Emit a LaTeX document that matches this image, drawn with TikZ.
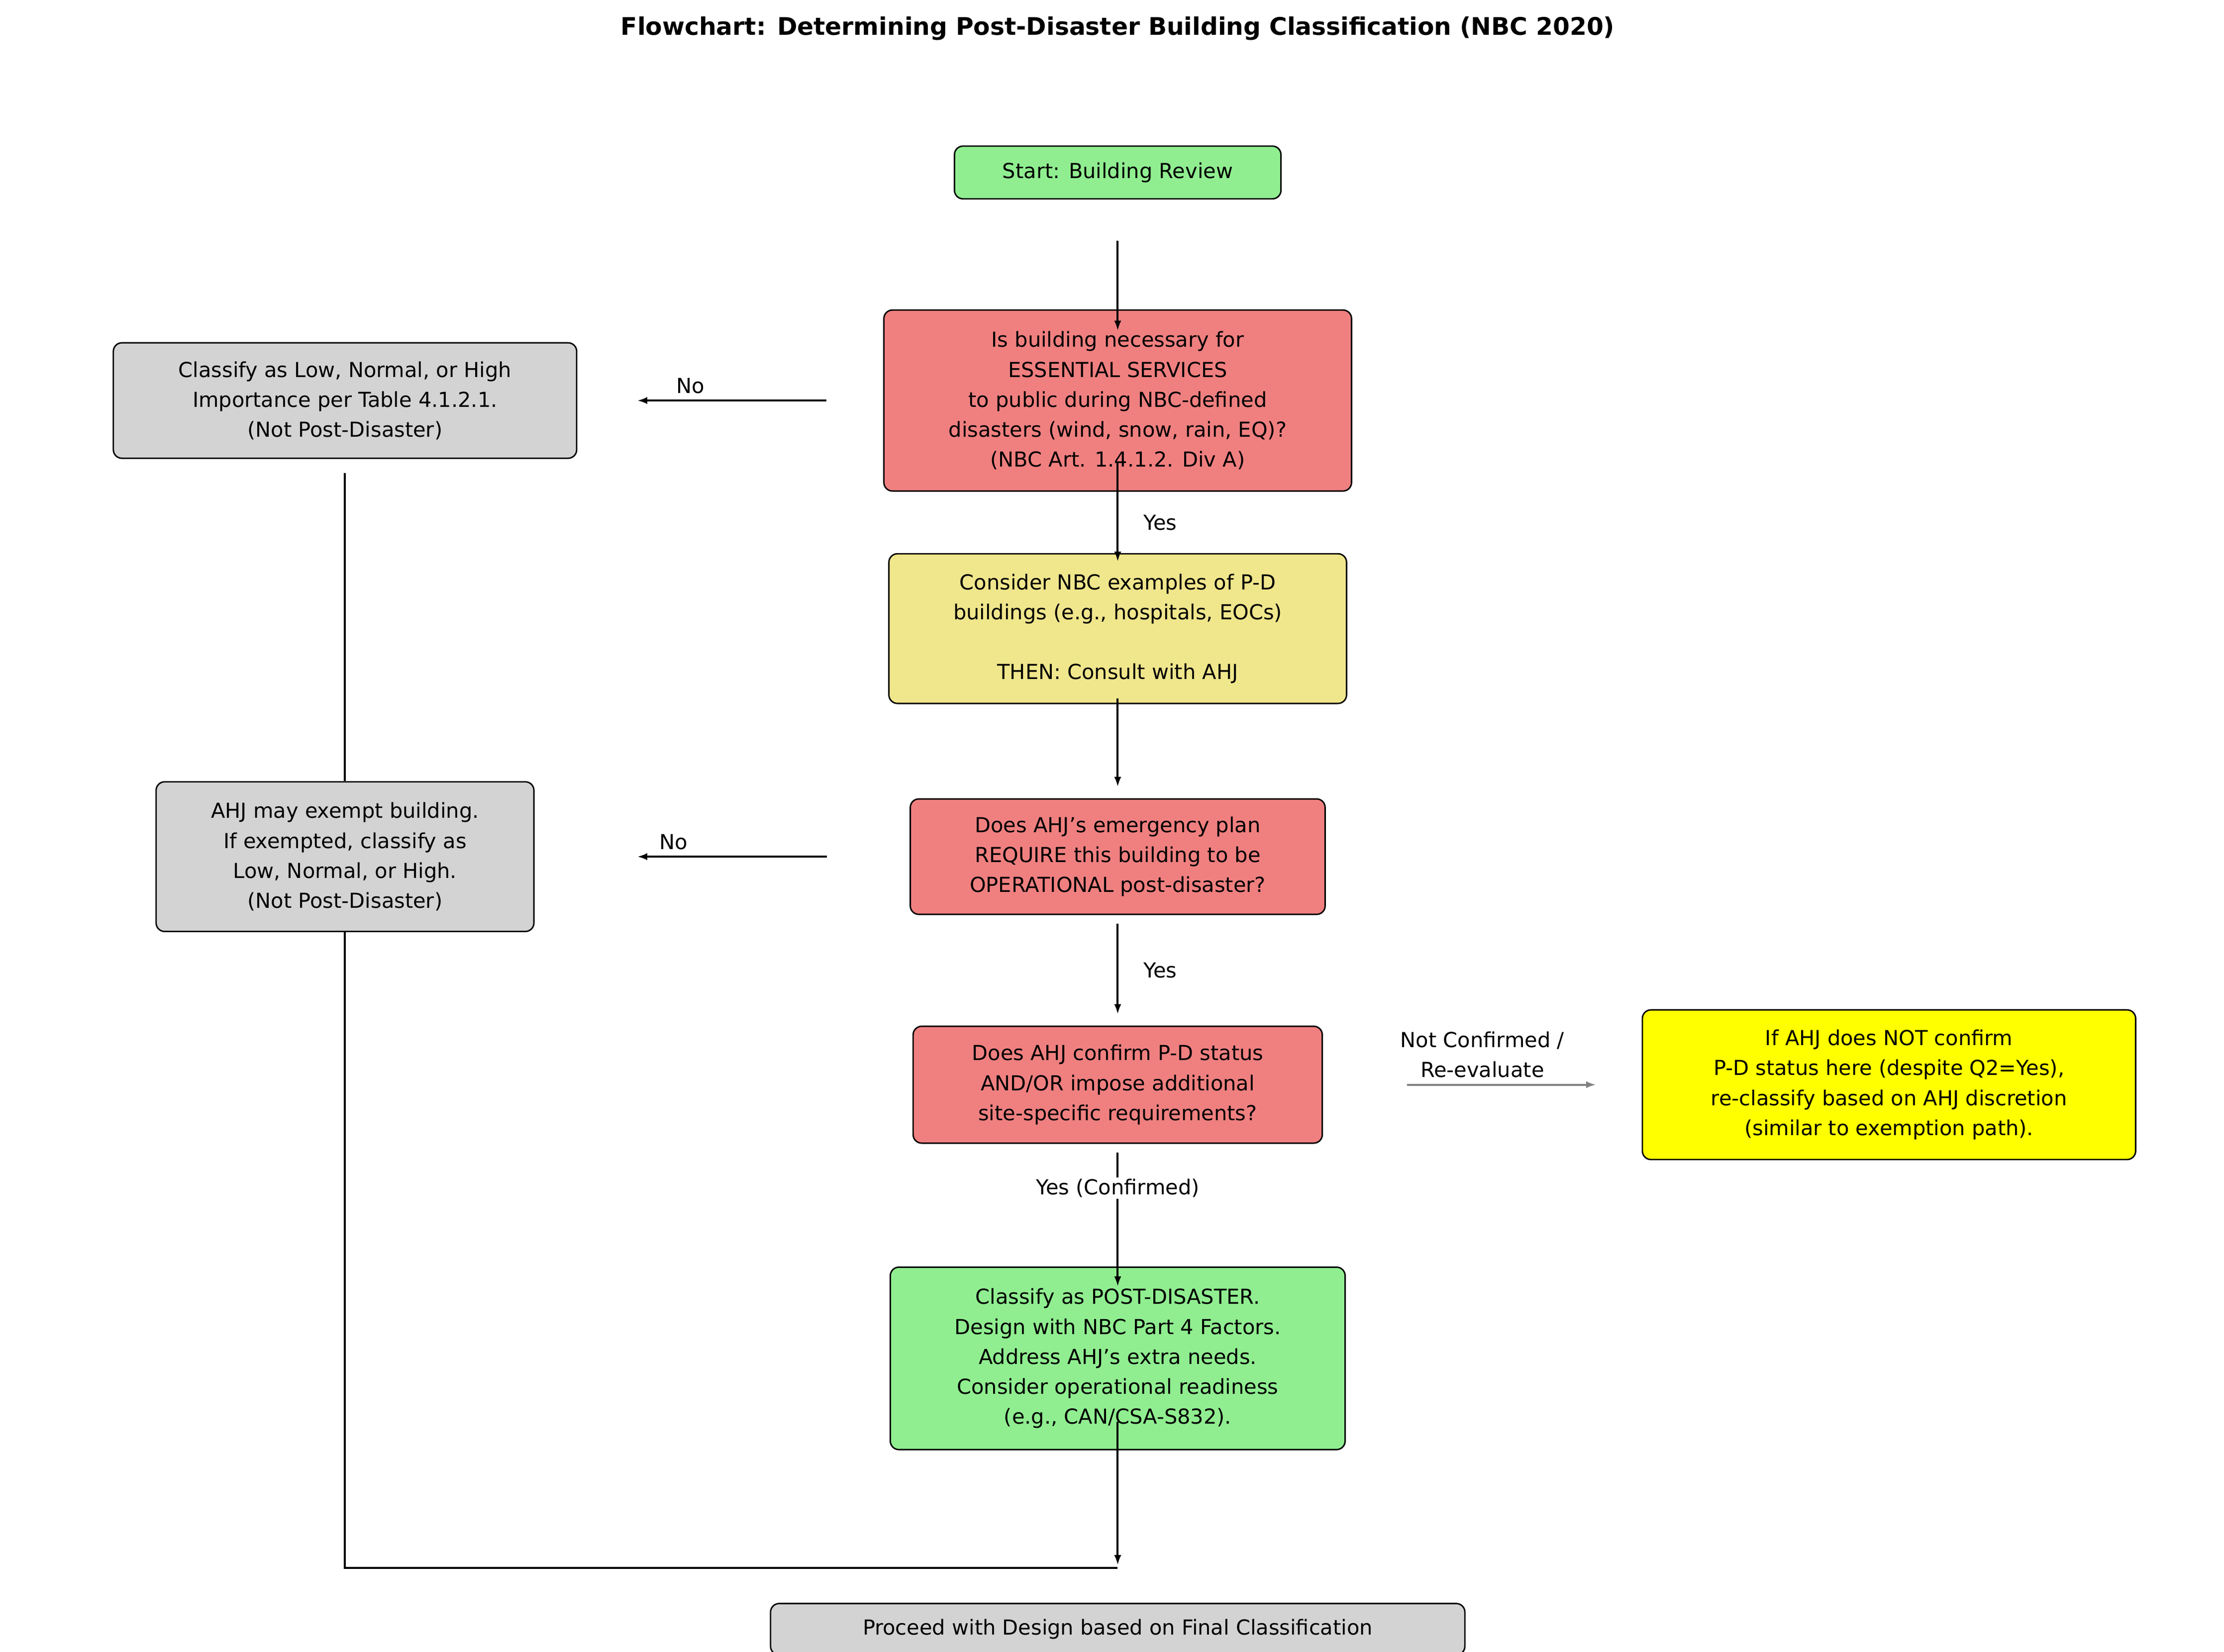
\documentclass[tikz,border=0pt]{standalone}
\usepackage{fontspec}
\setmainfont{DejaVu Sans}
\usetikzlibrary{arrows.meta}
\definecolor{pdgreen}{HTML}{90EE90}
\definecolor{pdred}{HTML}{F08080}
\definecolor{pdgray}{HTML}{D3D3D3}
\definecolor{pdkhaki}{HTML}{F0E68C}
\definecolor{pdyellow}{HTML}{FFFF00}
\tikzset{
  box/.style={draw, line width=1pt, rounded corners=6pt, align=center, inner sep=0pt,
    font=\fontsize{14.5}{21}\selectfont},
  flow/.style={line width=1.4pt, -{Latex[length=7pt,width=5pt]}},
  plain/.style={line width=1.4pt},
  lbl/.style={font=\fontsize{14.5}{21}\selectfont, align=center}
}
\begin{document}
\begin{tikzpicture}[x=1pt,y=-1pt]
        \useasboundingbox (0,0) rectangle (1560,1159);

        \node [font=\fontsize{17}{21}\selectfont\bfseries] (title) at (784,20) {Flowchart: Determining Post-Disaster Building Classification (NBC 2020)};

        \node [box, fill=pdgreen, minimum width=229, minimum height=37] (start) at (784,121) {Start: Building Review};
        \node [box, fill=pdred, minimum width=328, minimum height=127] (essential) at (784,281) {Is building necessary for\\ESSENTIAL SERVICES\\to public during NBC-defined\\disasters (wind, snow, rain, EQ)?\\(NBC Art. 1.4.1.2. Div A)};
        \node [box, fill=pdgray, minimum width=325, minimum height=81] (lowimp) at (242,281) {Classify as Low, Normal, or High\\Importance per Table 4.1.2.1.\\(Not Post-Disaster)};
        \node [box, fill=pdkhaki, minimum width=321, minimum height=105] (examples) at (784,441) {Consider NBC examples of P-D\\buildings (e.g., hospitals, EOCs)\\[21pt]THEN: Consult with AHJ};
        \node [box, fill=pdred, minimum width=291, minimum height=81] (plan) at (784,601) {Does AHJ's emergency plan\\REQUIRE this building to be\\OPERATIONAL post-disaster?};
        \node [box, fill=pdgray, minimum width=265, minimum height=105] (exempt) at (242,601) {AHJ may exempt building.\\If exempted, classify as\\Low, Normal, or High.\\(Not Post-Disaster)};
        \node [box, fill=pdred, minimum width=287, minimum height=82] (confirm) at (784,761) {Does AHJ confirm P-D status\\AND/OR impose additional\\site-specific requirements?};
        \node [box, fill=pdyellow, minimum width=346, minimum height=105] (reclass) at (1325,761) {If AHJ does NOT confirm\\P-D status here (despite Q2=Yes),\\re-classify based on AHJ discretion\\(similar to exemption path).};
        \node [box, fill=pdgreen, minimum width=319, minimum height=128] (postdis) at (784,953) {Classify as POST-DISASTER.\\Design with NBC Part 4 Factors.\\Address AHJ's extra needs.\\Consider operational readiness\\(e.g., CAN/CSA-S832).};
        \node [box, fill=pdgray, minimum width=487, minimum height=36] (proceed) at (784,1143) {Proceed with Design based on Final Classification};

        \coordinate (join) at (784,1100);
        \coordinate (corner) at (242,1100);

        % main column
        \draw [flow, shorten <=29pt, shorten >=-15pt] (start.south) -- (essential.north);
        \draw [flow, shorten <=-20pt, shorten >=-6pt] (essential.south) -- node [lbl, right=14pt] {Yes} (examples.north);
        \draw [flow, shorten <=-4pt, shorten >=8pt] (examples.south) -- (plan.north);
        \draw [flow, shorten <=6pt, shorten >=8pt] (plan.south) -- node [lbl, right=14pt] {Yes} (confirm.north);
        \draw [flow, shorten <=6pt, shorten >=-14pt] (confirm.south) -- node [lbl, fill=white, inner sep=1pt, pos=0.36] {Yes (Confirmed)} (postdis.north);
        \draw [flow, shorten <=-20pt, shorten >=2pt] (postdis.south) -- (join);

        % side branches
        \draw [flow, shorten <=40pt, shorten >=42pt] (essential.west) -- node [lbl, above=1pt, pos=0.63] {No} (lowimp.east);
        \draw [flow, shorten <=58pt, shorten >=72pt] (plan.west) -- node [lbl, above=1pt, pos=0.63] {No} (exempt.east);
        \draw [flow, gray, shorten <=59pt, shorten >=32pt] (confirm.east) -- node [lbl, black, above=1pt] {Not Confirmed /\\Re-evaluate} (reclass.west);

        % merge lines
        \draw [plain, shorten <=10pt] (lowimp.south) -- (exempt.north);
        \draw [plain] (exempt.south) -- (corner) -- (join);
\end{tikzpicture}
\end{document}
